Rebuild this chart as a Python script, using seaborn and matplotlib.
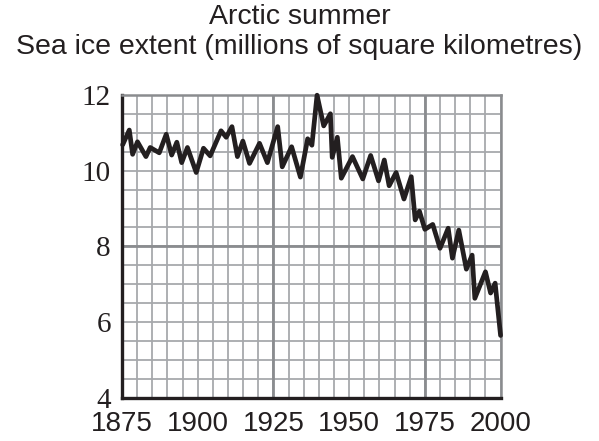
import numpy as np
import pandas as pd
import matplotlib
matplotlib.use("Agg")
import matplotlib.pyplot as plt
import seaborn as sns

# values
years = [1875.2, 1877.4, 1878.5, 1880.1, 1882.9, 1884.3, 1887.3, 1889.6, 1891.4, 1893.1,
         1894.7, 1896.6, 1899.5, 1901.9, 1904.1, 1907.7, 1909.4, 1911.3, 1913.1, 1914.9,
         1917.1, 1920.4, 1923.0, 1926.4, 1927.9, 1931.0, 1933.9, 1936.3, 1937.7, 1939.4,
         1941.6, 1943.8, 1944.4, 1946.1, 1947.4, 1951.1, 1954.5, 1957.1, 1959.7, 1961.6,
         1963.2, 1965.5, 1968.1, 1970.5, 1971.8, 1973.2, 1975.0, 1977.6, 1980.0, 1982.7,
         1984.1, 1986.2, 1988.7, 1990.6, 1991.5, 1995.0, 1996.7, 1998.2, 2000.0]
extent = [10.68, 11.07, 10.43, 10.76, 10.37, 10.61, 10.47, 10.96, 10.41, 10.75,
          10.21, 10.61, 9.95, 10.59, 10.39, 11.05, 10.88, 11.16, 10.37, 10.78,
          10.19, 10.72, 10.21, 11.16, 10.10, 10.63, 9.83, 10.84, 10.67, 11.99,
          11.18, 11.50, 10.35, 10.88, 9.80, 10.37, 9.78, 10.40, 9.73, 10.28,
          9.60, 9.95, 9.25, 9.84, 8.70, 8.93, 8.45, 8.58, 7.95, 8.48,
          7.69, 8.43, 7.40, 7.77, 6.63, 7.33, 6.77, 7.03, 5.65]
x_ticks = [1875, 1900, 1925, 1950, 1975, 2000]
y_ticks = [4, 6, 8, 10, 12]
title = "Arctic summer\nSea ice extent (millions of square kilometres)"

sns.set_style("white")
plt.rcParams['font.family'] = ['Liberation Sans', 'DejaVu Sans']

ink = "#231f20"
grid_c = "#a7a9ac"
dark_c = "#8a8c8f"

df = pd.DataFrame({"year": years, "extent": extent})

fig = plt.figure(figsize=(5.99, 4.41), dpi=100)
ax = fig.add_axes([0.2037, 0.0975, 0.632, 0.6875])

ax.set_xlim(1875, 2000)
ax.set_ylim(4, 12)
ax.set_xticks(x_ticks)
ax.set_yticks(y_ticks)
ax.set_xticks(np.arange(1875, 2001, 5), minor=True)
ax.set_yticks(np.arange(4, 12.01, 0.5), minor=True)
ax.grid(which="both", color=grid_c, lw=1.3)
for yr in [1925, 1975]:
    ax.axvline(yr, color=dark_c, lw=2)
ax.axhline(8, color=dark_c, lw=2)
ax.set_axisbelow(True)

sns.lineplot(data=df, x="year", y="extent", ax=ax, color=ink, lw=3.4,
             zorder=5, clip_on=False)

for s in ["left", "bottom"]:
    ax.spines[s].set_color(ink)
    ax.spines[s].set_linewidth(2.4)
for s in ["top", "right"]:
    ax.spines[s].set_color(dark_c)
    ax.spines[s].set_linewidth(1.8)

ax.tick_params(which="major", direction="out", length=7, width=1.3, color=ink,
               labelcolor=ink)
ax.tick_params(axis="x", pad=2.5, labelsize=20)
ax.tick_params(axis="y", pad=1, labelsize=21)
ax.tick_params(which="minor", length=0)
for lab in ax.get_yticklabels():
    lab.set_family(["Liberation Serif", "DejaVu Serif"])
ax.set_xlabel("")
ax.set_ylabel("")

fig.text(0.5, 0.99, title, ha="center", va="top", fontsize=20.5, color=ink,
         linespacing=1.2)

fig.savefig("out.png", dpi=100)
